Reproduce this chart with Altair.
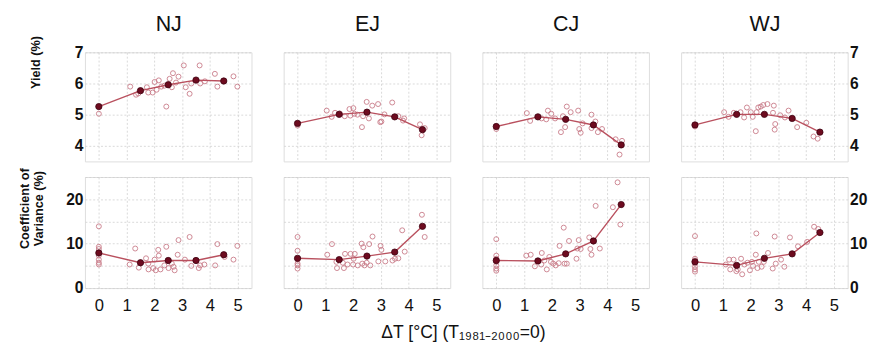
import altair as alt
import pandas as pd

regions = ["NJ", "EJ", "CJ", "WJ"]
mean_x = [0, 1.5, 2.5, 3.5, 4.5]
x_ticks = [0, 1, 2, 3, 4, 5]
yield_ticks = [4, 5, 6, 7]
cv_ticks = [0, 5, 10, 15, 20, 25]
x_title = "ΔT [°C] (T₁₉₈₁₋₂₀₀₀=0)"
yield_title = "Yield (%)"
cv_title = ["Coefficient of", "Variance (%)"]

# ---- Yield (%) ----
nj_yield_x = [0, 1.13, 1.34, 1.42, 1.73, 1.78, 1.94, 2.01, 2.08, 2.16, 2.25, 2.36, 2.43, 2.55, 2.63, 2.67,
              2.78, 2.87, 3.06, 3.13, 3.27, 3.33, 3.63, 3.65, 3.82, 4.18, 4.27, 4.85, 4.99]
nj_yield_y = [5.03, 5.90, 5.64, 5.68, 5.88, 5.71, 5.71, 6.05, 5.80, 6.10, 5.90, 5.93, 5.26, 6.15, 5.88, 6.33,
              6.03, 6.22, 6.58, 5.88, 5.67, 6.00, 6.58, 6.00, 6.07, 6.31, 5.90, 6.23, 5.90]
nj_yield_mean = [5.26, 5.77, 5.96, 6.11, 6.08]

ej_yield_x = [0, 1.05, 1.23, 1.35, 1.52, 1.70, 1.87, 1.90, 2.01, 2.05, 2.16, 2.32, 2.36, 2.49, 2.57, 2.69,
              2.90, 2.98, 3.02, 3.13, 3.41, 3.63, 3.80, 3.84, 4.41, 4.58, 4.47]
ej_yield_y = [4.65, 5.13, 4.93, 5.06, 5.04, 4.95, 5.18, 4.97, 5.21, 5.03, 5.00, 4.60, 4.95, 5.41, 4.88, 5.29,
              5.34, 4.76, 4.78, 5.01, 5.39, 4.95, 4.81, 4.88, 4.69, 4.57, 4.34]
ej_yield_mean = [4.72, 5.01, 5.08, 4.93, 4.52]

cj_yield_x = [0, 1.10, 1.22, 1.63, 1.80, 1.86, 1.98, 2.12, 2.33, 2.40, 2.48, 2.54, 2.68, 2.95, 2.99, 3.04,
              3.11, 3.43, 3.43, 3.57, 3.66, 3.81, 4.30, 4.53, 4.44]
cj_yield_y = [4.54, 5.05, 4.80, 4.88, 4.85, 5.13, 5.03, 4.88, 4.44, 4.95, 4.60, 5.26, 5.08, 5.13, 4.54, 4.42,
              4.72, 5.00, 4.57, 4.78, 4.44, 4.54, 4.21, 4.16, 3.72]
cj_yield_mean = [4.62, 4.93, 4.85, 4.67, 4.03]

wj_yield_x = [0, 1.05, 1.21, 1.40, 1.64, 1.77, 1.87, 2.01, 2.08, 2.19, 2.22, 2.28, 2.37, 2.46, 2.61, 2.81,
              2.84, 2.89, 2.87, 3.07, 3.24, 3.37, 3.68, 4.01, 4.27, 4.42]
wj_yield_y = [4.62, 5.08, 4.93, 5.06, 5.08, 4.91, 5.23, 5.08, 4.93, 4.47, 5.08, 5.23, 5.26, 5.31, 5.34, 5.06,
              5.29, 4.70, 4.52, 4.98, 4.91, 5.13, 4.60, 4.74, 4.30, 4.23]
wj_yield_mean = [4.67, 5.01, 5.01, 4.88, 4.44]

# ---- Coefficient of variance (%) ----
nj_cv_x = [0, 0, 0, 0, 0, 0, 0, 1.11, 1.31, 1.44, 1.70, 1.78, 1.79, 1.96, 2.01, 2.05, 2.14, 2.16, 2.22,
           2.36, 2.43, 2.51, 2.63, 2.69, 2.73, 2.84, 2.87, 3.10, 3.27, 3.33, 3.60, 3.65, 3.80, 4.19, 4.27,
           4.53, 4.85, 4.99]
nj_cv_y = [13.9, 9.3, 8.8, 7.3, 6.4, 5.7, 5.3, 5.3, 8.9, 4.6, 6.7, 5.5, 4.2, 4.5, 6.4, 4.0, 8.6, 7.3, 4.2,
           5.1, 9.3, 4.5, 5.5, 4.8, 4.0, 7.5, 10.8, 6.4, 11.5, 5.0, 4.5, 5.1, 5.3, 5.1, 9.9,
           7.0, 6.4, 9.5]
nj_cv_mean = [7.9, 5.7, 6.2, 6.2, 7.5]

ej_cv_x = [0, 0, 0, 0, 0, 0, 1.07, 1.24, 1.40, 1.42, 1.63, 1.67, 1.71, 1.80, 1.91, 2.00, 2.02, 2.06, 2.17,
           2.31, 2.33, 2.37, 2.41, 2.49, 2.58, 2.62, 2.70, 2.91, 2.99, 3.02, 3.16, 3.42, 3.51, 3.63, 3.77,
           3.86, 4.48, 4.58]
ej_cv_y = [11.5, 8.4, 6.4, 5.5, 5.1, 4.4, 7.5, 9.9, 5.9, 4.5, 5.7, 4.5, 7.7, 5.3, 7.7, 5.3, 6.6, 7.7, 5.1,
           10.0, 5.5, 9.2, 5.1, 5.7, 9.9, 5.1, 11.6, 6.0, 9.5, 8.6, 6.0, 6.2, 6.6, 6.7, 13.0,
           8.2, 16.5, 11.5]
ej_cv_mean = [6.7, 6.4, 7.2, 8.1, 13.9]

cj_cv_x = [0, 0, 0, 0, 0, 0, 0, 1.08, 1.24, 1.39, 1.62, 1.64, 1.73, 1.82, 1.91, 1.97, 2.05, 2.14, 2.25,
           2.28, 2.43, 2.46, 2.54, 2.62, 2.89, 2.92, 2.97, 3.04, 3.35, 3.39, 3.43, 3.58, 3.73, 4.20, 4.37,
           4.47]
cj_cv_y = [11.0, 7.3, 6.6, 5.9, 5.1, 4.4, 3.9, 7.3, 7.5, 4.9, 5.3, 7.9, 6.2, 4.2, 7.0, 5.9, 5.5, 5.1, 5.6,
           9.5, 13.6, 5.5, 5.5, 10.6, 6.6, 8.9, 10.8, 8.8, 11.4, 8.8, 7.5, 18.5, 8.9, 18.2, 23.8,
           14.3]
cj_cv_mean = [6.2, 6.1, 7.7, 10.6, 18.8]

wj_cv_x = [0, 0, 0, 0, 0, 0, 0, 1.11, 1.23, 1.27, 1.39, 1.49, 1.54, 1.66, 1.70, 1.78, 1.89, 1.98, 2.05,
           2.09, 2.19, 2.21, 2.25, 2.30, 2.40, 2.48, 2.63, 2.80, 2.87, 2.91, 3.10, 3.22, 3.42, 3.71, 4.04,
           4.29, 4.44]
wj_cv_y = [11.7, 6.6, 6.2, 5.5, 4.8, 4.2, 3.7, 5.3, 6.4, 4.2, 6.4, 3.8, 4.2, 6.6, 3.1, 5.3, 5.7, 4.0, 5.9,
           5.0, 7.5, 12.3, 4.5, 5.9, 4.8, 5.9, 7.9, 4.4, 11.6, 5.5, 6.4, 4.8, 11.4, 9.4, 10.4,
           13.8, 13.3]
wj_cv_mean = [5.9, 5.1, 6.7, 7.7, 12.5]

yield_data = {"NJ": (nj_yield_x, nj_yield_y, nj_yield_mean),
              "EJ": (ej_yield_x, ej_yield_y, ej_yield_mean),
              "CJ": (cj_yield_x, cj_yield_y, cj_yield_mean),
              "WJ": (wj_yield_x, wj_yield_y, wj_yield_mean)}
cv_data = {"NJ": (nj_cv_x, nj_cv_y, nj_cv_mean),
           "EJ": (ej_cv_x, ej_cv_y, ej_cv_mean),
           "CJ": (cj_cv_x, cj_cv_y, cj_cv_mean),
           "WJ": (wj_cv_x, wj_cv_y, wj_cv_mean)}

OPEN = "#c97a88"
LINE = "#b9505e"
FILL = "#6d0b1f"
FONT = "Liberation Sans"
GRID = dict(gridColor="#cfcfcf", gridDash=[2, 2], gridWidth=0.8)

PW, PH_TOP, PH_BOT = 171, 112, 114


def panel(region, col, row):
    top = row == 0
    xs, ys, means = (yield_data if top else cv_data)[region]
    pts = pd.DataFrame({"x": xs, "y": ys})
    mns = pd.DataFrame({"x": mean_x, "y": means})

    x_axis = alt.Axis(values=x_ticks, labels=not top, ticks=False, domain=False, grid=True,
                      labelFontSize=17, labelFont=FONT, labelColor="#111",
                      labelPadding=0 if top else 10,
                      labelFlush=False, title=None, **GRID)
    if top:
        yvals, ydom = yield_ticks, [3.5, 7]
        lab_expr = "datum.label"
        ytitle = yield_title
        tpad = 33
        ty = 10
    else:
        yvals, ydom = cv_ticks, [0, 25]
        lab_expr = "datum.value % 10 == 0 ? datum.label : ''"
        ytitle = cv_title
        tpad = 21
        ty = 32
    yaxis_kw = dict(values=yvals, ticks=False, domain=False, grid=True,
                    labelFontSize=16, labelFontWeight="bold", labelFont=FONT, labelColor="#111",
                    labelPadding=2, labelExpr=lab_expr, labelFlush=False, **GRID)
    if col == 0:
        y_axis = alt.Axis(orient="left", title=ytitle, titleFontSize=13, titleFontWeight="bold",
                          titleFont=FONT, titleColor="#111", titlePadding=tpad, titleY=ty,
                          titleAlign="center", titleBaseline="bottom", titleAngle=270,
                          titleLineHeight=14, **yaxis_kw)
    elif col == 3:
        y_axis = alt.Axis(orient="right", title=None, **yaxis_kw)
    else:
        yaxis_kw["labels"] = False
        y_axis = alt.Axis(orient="left", title=None, **yaxis_kw)

    xscale = alt.Scale(domain=[-0.5, 5.5], nice=False, zero=False)
    X = alt.X("x:Q", scale=xscale, axis=x_axis)
    Y = alt.Y("y:Q", scale=alt.Scale(domain=ydom, nice=False, zero=False), axis=y_axis)
    if top:
        X_line = alt.X("x:Q", scale=xscale, axis=None)
        X_top = alt.X("x:Q", scale=xscale,
                      axis=alt.Axis(orient="top", title=region, labels=False, ticks=False, domain=False,
                                    grid=False, titleFontSize=22, titleFontWeight="normal", titleFont=FONT,
                                    titleColor="#111", titlePadding=17, titleBaseline="bottom"))
    else:
        X_line = X
        X_top = X

    open_pts = alt.Chart(pts).mark_point(shape="circle", filled=False, size=26, strokeWidth=1,
                                         color=OPEN, opacity=0.9).encode(x=X, y=Y)
    line = alt.Chart(mns).mark_line(color=LINE, strokeWidth=1.4).encode(x=X_line, y=Y)
    filled = alt.Chart(mns).mark_point(shape="circle", filled=True, size=42, fill=FILL,
                                       stroke="#3d0010", strokeWidth=0.8, opacity=1).encode(x=X_top, y=Y)
    ch = alt.layer(open_pts, line, filled).properties(width=PW, height=PH_TOP if top else PH_BOT)
    if top:
        ch = ch.resolve_axis(x="independent")
    return ch


cells = [panel(r, c, 0) for c, r in enumerate(regions)] + [panel(r, c, 1) for c, r in enumerate(regions)]

chart = alt.concat(*cells, columns=4, spacing={"row": 4, "column": 31}).properties(
    title=alt.TitleParams(x_title, orient="bottom", anchor="middle", fontSize=18, fontWeight="normal",
                          font=FONT, color="#111", offset=11, baseline="top", dx=21),
    padding={"left": 10, "top": 0, "right": 5, "bottom": 0},
).configure_view(stroke="#3a3a3a", strokeWidth=1.6).configure(background="white")

chart.save("out.html", embed_options={"renderer": "svg", "actions": False})
